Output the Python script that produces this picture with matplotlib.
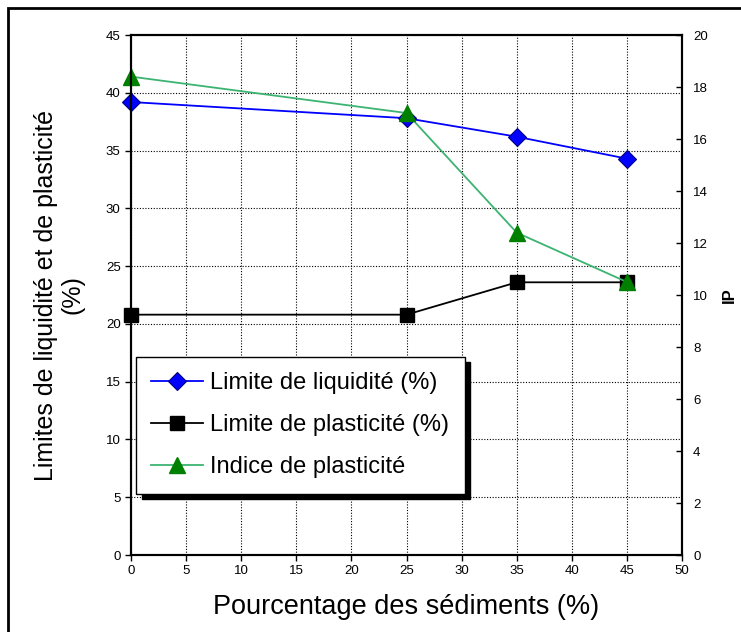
import matplotlib
matplotlib.use("Agg")
from matplotlib import pyplot as plt
from matplotlib.patches import Rectangle

plt.rcParams['font.family'] = ['Liberation Sans', 'DejaVu Sans']

# data
sediments = [0, 25, 35, 45]
limite_liquidite = [39.2, 37.8, 36.2, 34.3]
limite_plasticite = [20.8, 20.8, 23.6, 23.6]
indice_plasticite = [18.4, 17.0, 12.4, 10.5]

fig = plt.figure(figsize=(7.41, 6.32), dpi=100)
ax1 = fig.add_axes([0.1768, 0.1218, 0.7436, 0.8228])

l1, = ax1.plot(sediments, limite_liquidite, color="#0000ff", lw=1.3, marker="D",
               ms=9, mfc="#0000ff", mec="#000080", mew=0.8, clip_on=False,
               label="Limite de liquidité (%)")
l2, = ax1.plot(sediments, limite_plasticite, color="black", lw=1.3, marker="s",
               ms=10, mfc="black", mec="black", clip_on=False,
               label="Limite de plasticité (%)")
ax1.set_xlim(0, 50)
ax1.set_ylim(0, 45)
ax1.set_xticks(range(0, 51, 5))
ax1.set_yticks(range(0, 46, 5))
ax1.grid(True, color="black", linestyle=(0, (1, 1.5)), linewidth=0.8)
ax1.tick_params(labelsize=9.5, length=4, width=1, direction="out")
ax1.set_xlabel("Pourcentage des sédiments (%)", fontsize=19.5, labelpad=12)
ax1.set_ylabel("Limites de liquidité et de plasticité\n(%)", fontsize=18, labelpad=15,
               linespacing=1.15)

ax2 = ax1.twinx()
l3, = ax2.plot(sediments, indice_plasticite, color="#3cb371", lw=1.3, marker="^",
               ms=12, mfc="#008000", mec="#008000", clip_on=False,
               label="Indice de plasticité")
ax2.set_ylim(0, 20)
ax2.set_yticks(range(0, 21, 2))
ax2.tick_params(labelsize=9.5, length=4, width=1, direction="in", pad=8)
ax2.set_ylabel("IP", fontsize=12, fontweight="bold", labelpad=10)

for ax in (ax1, ax2):
    for sp in ax.spines.values():
        sp.set_linewidth(1.5)
        sp.set_color("black")

leg = ax2.legend(handles=[l1, l2, l3], loc="upper left", bbox_to_anchor=(0.009, 0.381),
                 borderaxespad=0, fontsize=17, labelspacing=0.85, handlelength=2.2,
                 handletextpad=0.3, borderpad=0.65, fancybox=False, framealpha=1,
                 edgecolor="black", shadow={'color': 'black', 'alpha': 1, 'ox': 4, 'oy': -4})
leg.get_frame().set_linewidth(1)

# outer frame of the figure
fig.patches.append(Rectangle((8 / 741, -0.1), 1.2, 1.1 - 8 / 632, transform=fig.transFigure,
                             fill=False, edgecolor="black", linewidth=2, clip_on=False))

fig.savefig("out.png", dpi=100)
